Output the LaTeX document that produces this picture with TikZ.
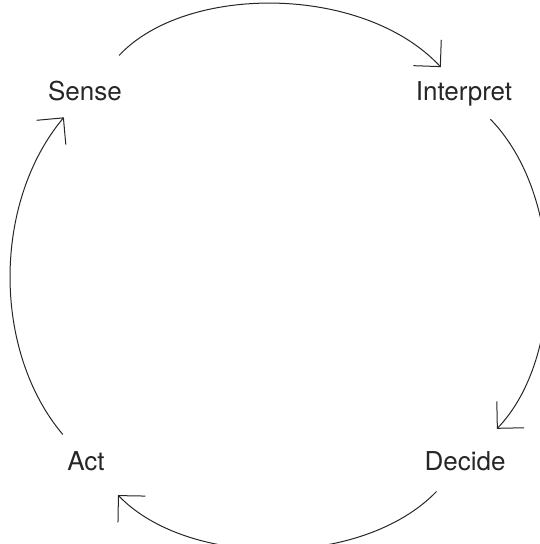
\documentclass[tikz,border=0pt]{standalone}
\usepackage{fontspec}
\setmainfont{TeX Gyre Heros}
\usepackage{tikz}
\usepackage{xcolor}
\usetikzlibrary{arrows.meta,positioning,calc}

\begin{document}
\begin{tikzpicture}[
  x=1pt, y=1pt,
  font=\fontsize{26}{30}\selectfont,
  >={Straight Barb[length=19pt,width=38pt]},
  stage/.style={text=black!85, inner sep=0pt, text height=18pt, text depth=0pt},
  cyclearrow/.style={->, line width=1pt, draw=black!85}
]
  \useasboundingbox (0,0) rectangle (539,544);
  \node[stage] (sense) at (85,452) {Sense};
  \node[stage] (interpret) at (464,452) {Interpret};
  \node[stage] (decide) at (465,82) {Decide};
  \node[stage] (act) at (86,82) {Act};

  \draw[cyclearrow, shorten <=50pt, shorten >=34pt] (sense.center) to[bend left=47] (interpret.center);
  \draw[cyclearrow, shorten <=38pt, shorten >=46pt] (interpret.center) to[bend left=44] (decide.center);
  \draw[cyclearrow, shorten <=41pt, shorten >=46pt] (decide.center) to[bend left=46] (act.center);
  \draw[cyclearrow, shorten <=36pt, shorten >=33pt] (act.center) to[bend left=40] (sense.center);
\end{tikzpicture}
\end{document}
